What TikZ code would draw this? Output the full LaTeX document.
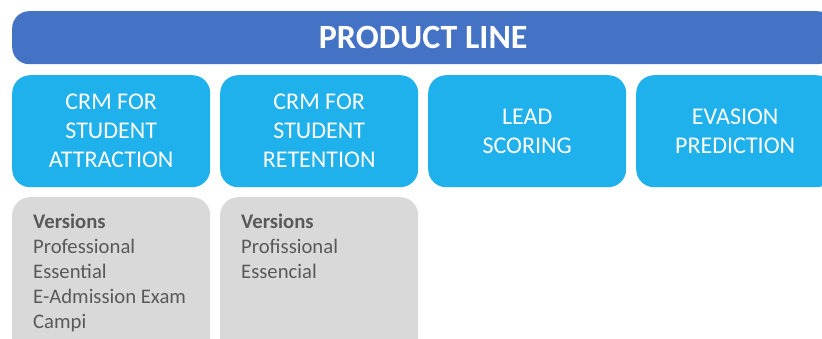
\documentclass[tikz,border=0pt]{standalone}
\usepackage{fontspec}
\setmainfont{Carlito}
\definecolor{hdrblue}{HTML}{4472C4}
\definecolor{boxblue}{HTML}{1FB1EC}
\definecolor{boxgray}{HTML}{D9D9D9}
\definecolor{txtgray}{HTML}{595959}
\begin{document}
\begin{tikzpicture}[x=1pt,y=-1pt,
  hdrbox/.style={fill=hdrblue, draw=none, rounded corners=17pt, minimum width=822pt, minimum height=53pt, anchor=north west,
    text=white, font=\fontsize{34}{40}\selectfont\bfseries, inner sep=0pt},
  prodbox/.style={fill=boxblue, draw=none, rounded corners=18pt, minimum width=198pt, minimum height=112pt, anchor=north west,
    text=white, align=center, font=\fontsize{24}{29}\selectfont, inner sep=0pt},
  verbox/.style={fill=boxgray, draw=none, rounded corners=18pt, minimum width=198pt, minimum height=170pt, anchor=north west, inner sep=0pt},
  vertext/.style={anchor=north west, inner sep=0pt, align=left, text=txtgray, font=\fontsize{20.7}{25}\selectfont}
]
\useasboundingbox (0,0) rectangle (822,339);
\clip (0,0) rectangle (822,339);
\fill[white] (0,0) rectangle (822,339);
\node[hdrbox] (hdr) at (12,11) {PRODUCT LINE};
\node[prodbox] (p1) at (12,75) {CRM FOR\\STUDENT\\ATTRACTION};
\node[prodbox] (p2) at (220,75) {CRM FOR\\STUDENT\\RETENTION};
\node[prodbox] (p3) at (428,75) {LEAD\\SCORING};
\node[prodbox] (p4) at (636,75) {EVASION\\PREDICTION};
\node[verbox] (v1) at (12,197) {};
\node[verbox] (v2) at (220,197) {};
\node[vertext] (t1) at (33,214) {\textbf{Versions}\\Professional\\Essential\\E-Admission Exam\\Campi};
\node[vertext] (t2) at (241,214) {\textbf{Versions}\\Profissional\\Essencial};
\end{tikzpicture}
\end{document}
